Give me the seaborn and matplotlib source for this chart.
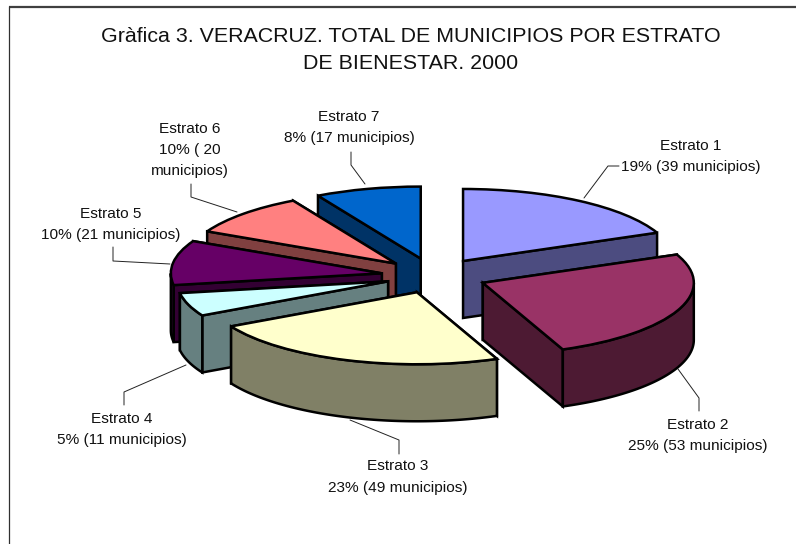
"""
Grafica 3: exploded pseudo 3D pie of Veracruz municipalities by welfare stratum.
"""
import numpy as np
import seaborn as sns
import matplotlib
matplotlib.use("Agg")
import matplotlib.pyplot as plt

title = "Gràfica 3. VERACRUZ. TOTAL DE MUNICIPIOS POR ESTRATO\nDE BIENESTAR. 2000"
strata = ["Estrato 1", "Estrato 2", "Estrato 3", "Estrato 4", "Estrato 5", "Estrato 6", "Estrato 7"]
municipios = [39, 53, 49, 11, 21, 20, 17]
label_text = [
    "Estrato 1\n19% (39 municipios)",
    "Estrato 2\n25% (53 municipios)",
    "Estrato 3\n23% (49 municipios)",
    "Estrato 4\n5% (11 municipios)",
    "Estrato 5\n10% (21 municipios)",
    "Estrato 6\n10% ( 20\nmunicipios)",
    "Estrato 7\n8% (17 municipios)",
]
top_colors = ["#9999FF", "#993366", "#FFFFCC", "#CCFFFF", "#660066", "#FF8080", "#0066CC"]
side_colors = ["#4C4C80", "#4D1A33", "#808066", "#668080", "#330033", "#804040", "#003366"]

# layout, in image pixels
W, H = 796, 544
CENTER_X, CENTER_Y = 434, 276
RADIUS_X, RADIUS_Y = 211, 72
DEPTH = 57 / RADIUS_Y
EXPLODE = [0.25, 0.25, 0.24, 0.23, 0.25, 0.25, 0.25]
DRAW_ORDER = [0, 6, 5, 4, 3, 2, 1]
LABEL_POS = [(691, 156.5), (698, 435.5), (398, 477), (122, 429.5), (111, 224.5), (190, 150), (349, 127.5)]
LEADERS = [
    [(584, 198), (608, 166), (619, 166)],
    [(678, 369), (699, 398), (699, 411)],
    [(350, 420), (399, 440), (399, 454)],
    [(186, 365), (124, 392), (124, 405)],
    [(170, 264), (113, 261), (113, 247)],
    [(237, 212), (191, 197), (191, 184)],
    [(365, 184), (351, 165), (351, 152)],
]

sns.set_theme(style="white")
plt.rcParams["font.family"] = ["Liberation Sans", "DejaVu Sans"]

fig = plt.figure(figsize=(W / 100, H / 100), dpi=100, facecolor="white")
ax = fig.add_axes([0, 0, 1, 1])

wedges, _ = ax.pie(
    municipios,
    explode=EXPLODE,
    colors=sns.color_palette(top_colors),
    startangle=90,
    counterclock=False,
    wedgeprops={"edgecolor": "black", "linewidth": 1.8, "joinstyle": "miter"},
)
ax.set_aspect("auto")
ax.set_xlim(-CENTER_X / RADIUS_X, (W - CENTER_X) / RADIUS_X)
ax.set_ylim((CENTER_Y - H) / RADIUS_Y, CENTER_Y / RADIUS_Y)

edge = {"edgecolor": "black", "linewidth": 1.8, "joinstyle": "miter"}
for rank, i in enumerate(DRAW_ORDER):
    wedge = wedges[i]
    cx, cy = wedge.center
    wedge.set_zorder(10 * rank + 3)
    rim = [np.radians(wedge.theta1), np.radians(wedge.theta2)]
    ends = [(cx + np.cos(t), cy + np.sin(t)) for t in rim]
    # hidden cut first, the one that reaches lower on screen goes on top of it
    for z, (ex, ey) in enumerate(sorted(ends, key=lambda p: -p[1])):
        ax.fill([cx, ex, ex, cx], [cy, ey, ey - DEPTH, cy - DEPTH],
                facecolor=side_colors[i], zorder=10 * rank + z, **edge)
    # outer wall, only where the rim faces the viewer
    t = np.linspace(rim[0], rim[1], 500)
    t = t[np.sin(t) <= 0]
    if len(t) > 1:
        x = cx + np.cos(t)
        y = cy + np.sin(t)
        ax.fill(np.r_[x, x[::-1]], np.r_[y, y[::-1] - DEPTH],
                facecolor=side_colors[i], zorder=10 * rank + 2, **edge)

# overlay in pixel coordinates for frame, title, labels and leaders
over = fig.add_axes([0, 0, 1, 1])
over.set_xlim(0, W)
over.set_ylim(H, 0)
over.axis("off")
over.plot([W, 9], [6.5, 6.5], color="#404040", lw=1.6, solid_capstyle="butt")
over.plot([9, 9], [6, H], color="#303030", lw=0.9, solid_capstyle="butt")
over.text(410.5, 50, title, ha="center", va="center", fontsize=15.4, color="#111111", linespacing=1.5)

for name, txt, pos, path in zip(strata, label_text, LABEL_POS, LEADERS):
    over.text(pos[0], pos[1], txt, ha="center", va="center", fontsize=11.1,
              color="#111111", linespacing=1.65)
    over.plot([p[0] for p in path], [p[1] for p in path], color="#222222", lw=0.7)

fig.savefig("out.png", dpi=100)
